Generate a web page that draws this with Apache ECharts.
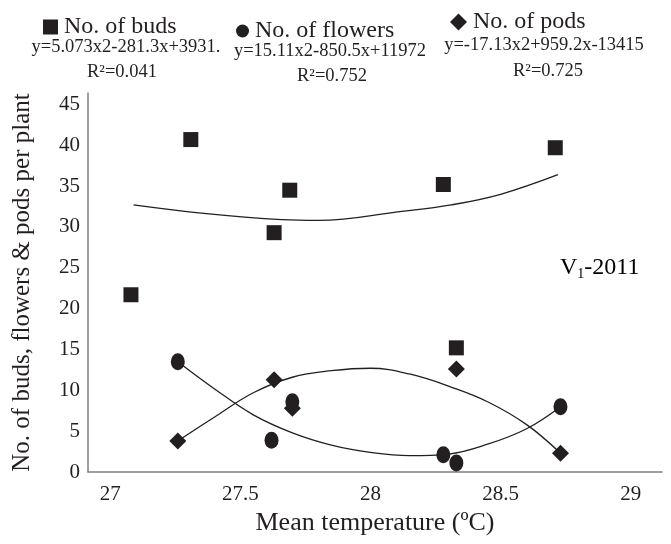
<!DOCTYPE html>
<html lang="en">
<head>
    <meta charset="UTF-8">
    <title>Buds, flowers and pods vs temperature</title>
    <style>
        html,body{margin:0;padding:0;background:#fff;}
        #main{width:671px;height:544px;}
    </style>
</head>
<body>
<div id="main"></div>
<script src="https://cdn.jsdelivr.net/npm/echarts@6/dist/echarts.min.js"></script>
<script>
// axis ticks
const xTicks=[27,27.5,28,28.5,29];
const yTicks=[0,5,10,15,20,25,30,35,40,45];

// observed points (mean temperature, count per plant)
const budTemp=[27.08,27.31,27.63,27.69,28.28,28.33,28.71];
const budCount=[21.7,40.7,29.3,34.5,35.2,15.2,39.7];
const flowerTemp=[27.26,27.62,27.70,28.28,28.33,28.73];
const flowerCount=[13.5,3.9,8.6,2.1,1.1,8.0];
const podTemp=[27.26,27.63,27.70,28.33,28.73];
const podCount=[3.8,11.3,7.8,12.6,2.3];

// trend curves
const budTrendT=[27.09,27.35,27.66,27.80,28.12,28.31,28.50,28.72];
const budTrendV=[32.7,31.7,30.9,30.8,31.9,32.7,34.0,36.4];
const flowerTrendT=[27.26,27.40,27.55,27.70,27.85,28.00,28.15,28.30,28.45,28.60,28.73];
const flowerTrendV=[13.5,10.2,7.0,4.8,3.3,2.4,2.0,2.2,3.4,5.3,8.0];
const podTrendT=[27.26,27.40,27.55,27.70,27.85,28.00,28.15,28.31,28.45,28.60,28.73];
const podTrendV=[3.8,6.7,9.7,11.6,12.4,12.7,12.0,10.4,8.6,5.8,2.3];

const ink='#231f20';
const serif='"Liberation Serif","Times New Roman",serif';

const pairs=(a,b)=>a.map((v,i)=>[v,b[i]]);

const chart=echarts.init(document.getElementById('main'));

const legendBase={
    orient:'horizontal',
    itemWidth:15,
    itemHeight:15,
    itemGap:4,
    textStyle:{fontFamily:serif,fontSize:24,color:ink,padding:[0,0,0,1]},
    selectedMode:false
};

// equation / R² labels under each legend entry
const eqText=(txt,x,y)=>({type:'text',style:{text:txt,font:'18.5px '+serif,fill:ink,x:x,y:y,align:'center',verticalAlign:'middle'}});

const option={
    animation:false,
    backgroundColor:'#fff',
    legend:[
        Object.assign({},legendBase,{data:[{name:'No. of buds',icon:'rect'}],left:38,top:10}),
        Object.assign({},legendBase,{data:[{name:'No. of flowers',icon:'circle'}],left:231,top:14,itemWidth:13,itemHeight:16}),
        Object.assign({},legendBase,{data:[{name:'No. of pods',icon:'diamond'}],left:445,top:5,itemWidth:17,itemHeight:17})
    ],
    graphic:[
        eqText('y=5.073x2-281.3x+3931.',126,47),
        eqText('R²=0.041',122,72),
        eqText('y=15.11x2-850.5x+11972',330,51),
        eqText('R²=0.752',332,76),
        eqText('y=-17.13x2+959.2x-13415',544,45),
        eqText('R²=0.725',548,71),
        {
            type:'text',
            style:{
                text:'{v|V}{s|1}{v|-2011}',
                x:560,y:268,verticalAlign:'middle',
                rich:{
                    v:{fontFamily:serif,fontSize:24,color:ink},
                    s:{fontFamily:serif,fontSize:14,color:ink,padding:[12,0,0,0]}
                }
            }
        }
    ],
    grid:{left:88,right:9,top:93,bottom:72,containLabel:false},
    xAxis:{
        type:'value',
        min:26.915,
        max:29.12,
        name:'Mean temperature (ºC)',
        nameLocation:'middle',
        nameGap:38,
        nameTextStyle:{fontFamily:serif,fontSize:26,color:ink},
        axisLine:{show:true,lineStyle:{color:'#7f7f7f',width:1.5}},
        axisTick:{show:false},
        splitLine:{show:false},
        axisLabel:{customValues:xTicks,fontFamily:serif,fontSize:21,color:ink,margin:12}
    },
    yAxis:{
        type:'value',
        min:0,
        max:46.4,
        name:'No. of buds, flowers & pods per plant',
        nameLocation:'middle',
        nameGap:53,
        nameTextStyle:{fontFamily:serif,fontSize:25,color:ink},
        axisLine:{show:true,lineStyle:{color:'#7f7f7f',width:1.5}},
        axisTick:{show:false},
        splitLine:{show:false},
        axisLabel:{customValues:yTicks,fontFamily:serif,fontSize:21,color:ink,margin:8}
    },
    series:[
        {
            name:'buds trend',type:'line',smooth:0.4,showSymbol:false,silent:true,
            lineStyle:{color:ink,width:1.3},data:pairs(budTrendT,budTrendV),z:1
        },
        {
            name:'flowers trend',type:'line',smooth:0.4,showSymbol:false,silent:true,
            lineStyle:{color:ink,width:1.3},data:pairs(flowerTrendT,flowerTrendV),z:1
        },
        {
            name:'pods trend',type:'line',smooth:0.4,showSymbol:false,silent:true,
            lineStyle:{color:ink,width:1.3},data:pairs(podTrendT,podTrendV),z:1
        },
        {
            name:'No. of buds',type:'scatter',symbol:'rect',symbolSize:15,
            itemStyle:{color:ink,opacity:1},data:pairs(budTemp,budCount),z:3
        },
        {
            name:'No. of flowers',type:'scatter',symbol:'circle',symbolSize:[14,17],
            itemStyle:{color:ink,opacity:1},data:pairs(flowerTemp,flowerCount),z:3
        },
        {
            name:'No. of pods',type:'scatter',symbol:'diamond',symbolSize:[17,17],
            itemStyle:{color:ink,opacity:1},data:pairs(podTemp,podCount),z:3
        }
    ]
};

chart.setOption(option);
</script>
</body>
</html>
